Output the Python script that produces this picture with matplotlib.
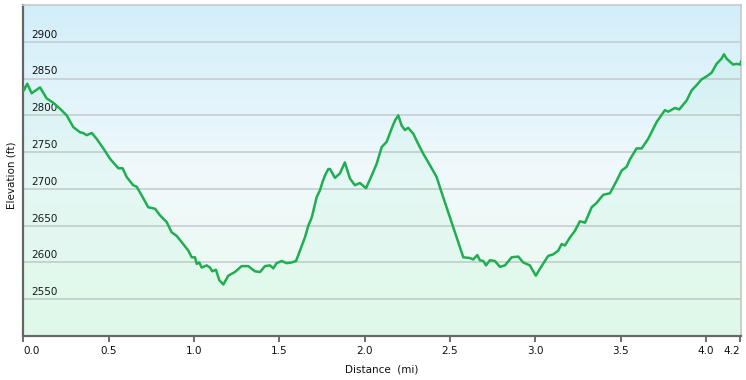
import numpy as np
import matplotlib
matplotlib.use('Agg')
import matplotlib.pyplot as plt
from matplotlib.colors import LinearSegmentedColormap

# elevation profile
distance_mi = [
    0.0, 0.004, 0.023, 0.049, 0.098, 0.137, 0.176, 0.215, 0.254, 0.293,
    0.332, 0.351, 0.371, 0.401, 0.430, 0.469, 0.508, 0.557, 0.582, 0.606,
    0.644, 0.664, 0.694, 0.732, 0.772, 0.801, 0.840, 0.869, 0.899, 0.937,
    0.967, 0.987, 1.006, 1.016, 1.031, 1.045, 1.074, 1.094, 1.107, 1.129,
    1.148, 1.172, 1.201, 1.240, 1.279, 1.318, 1.357, 1.387, 1.416, 1.445,
    1.465, 1.484, 1.514, 1.543, 1.572, 1.598, 1.621, 1.650, 1.670, 1.690,
    1.719, 1.738, 1.754, 1.767, 1.787, 1.797, 1.826, 1.855, 1.884, 1.914,
    1.943, 1.972, 2.008, 2.041, 2.070, 2.100, 2.129, 2.158, 2.178, 2.197,
    2.217, 2.236, 2.255, 2.285, 2.314, 2.343, 2.383, 2.422, 2.451, 2.490,
    2.529, 2.558, 2.578, 2.617, 2.636, 2.660, 2.675, 2.695, 2.711, 2.734,
    2.763, 2.793, 2.822, 2.861, 2.900, 2.929, 2.968, 3.003, 3.026, 3.056,
    3.076, 3.105, 3.134, 3.154, 3.173, 3.203, 3.232, 3.261, 3.291, 3.330,
    3.359, 3.398, 3.437, 3.476, 3.506, 3.535, 3.554, 3.593, 3.623, 3.661,
    3.711, 3.759, 3.779, 3.818, 3.843, 3.886, 3.916, 3.945, 3.974, 4.004,
    4.033, 4.062, 4.091, 4.105, 4.121, 4.159, 4.179, 4.199, 4.205,
]
elevation_ft = [
    2838, 2834, 2843, 2830, 2838, 2823, 2817, 2809, 2800, 2784,
    2777, 2776, 2773, 2776, 2768, 2755, 2741, 2728, 2728, 2716,
    2705, 2703, 2691, 2675, 2673, 2664, 2655, 2641, 2636, 2625,
    2616, 2607, 2607, 2598, 2600, 2593, 2596, 2593, 2588, 2590,
    2576, 2570, 2582, 2587, 2595, 2595, 2588, 2587, 2595, 2596,
    2592, 2599, 2602, 2599, 2600, 2602, 2616, 2634, 2650, 2661,
    2689, 2698, 2710, 2718, 2727, 2727, 2715, 2721, 2736, 2714,
    2705, 2708, 2701, 2718, 2734, 2757, 2764, 2782, 2793, 2800,
    2786, 2780, 2783, 2775, 2761, 2748, 2732, 2716, 2695, 2668,
    2641, 2621, 2607, 2606, 2604, 2610, 2603, 2602, 2596, 2603,
    2602, 2594, 2596, 2607, 2608, 2600, 2596, 2582, 2591, 2602,
    2609, 2611, 2616, 2625, 2623, 2634, 2643, 2656, 2654, 2675,
    2681, 2692, 2694, 2711, 2725, 2730, 2740, 2755, 2755, 2768,
    2791, 2807, 2805, 2810, 2808, 2820, 2834, 2841, 2849, 2853,
    2858, 2870, 2877, 2883, 2877, 2869, 2870, 2869, 2873,
]

x_ticks = [0.0, 0.5, 1.0, 1.5, 2.0, 2.5, 3.0, 3.5, 4.0, 4.2]
x_tick_labels = ['0.0', '0.5', '1.0', '1.5', '2.0', '2.5', '3.0', '3.5', '4.0', '4.2']
y_grid = [2550, 2600, 2650, 2700, 2750, 2800, 2850, 2900]
y_min, y_max = 2500, 2950
x_max = 4.205

fig = plt.figure(figsize=(7.46, 3.80), dpi=100)
ax = fig.add_axes([23.3 / 746, 1 - 336 / 380, (741 - 23.3) / 746, (336 - 5) / 380])

# background gradient: blue at top, near white, green at bottom
bg = LinearSegmentedColormap.from_list('bg', ['#ebfbee', '#f0f9fc', '#d2eefa'])
grad = np.linspace(0, 1, 256).reshape(-1, 1)
ax.imshow(grad, cmap=bg, origin='lower', aspect='auto',
          extent=[0, 1, 0, 1], transform=ax.transAxes, zorder=0)

for v in y_grid:
    ax.axhline(v, color='#c6cdd0', lw=1.2, zorder=1)
    ax.annotate(str(v), xy=(0.0117, v), xycoords=ax.get_yaxis_transform(),
                xytext=(0, 3), textcoords='offset points',
                ha='left', va='baseline', fontsize=7.5, color='#111111', zorder=2)

ax.fill_between(distance_mi, elevation_ft, y_min, color='#40d890', alpha=0.06,
                lw=0, zorder=3)
ax.plot(distance_mi, elevation_ft, color='#1fae50', lw=1.8, zorder=4,
        solid_joinstyle='round')

ax.set_xlim(0, x_max)
ax.set_ylim(y_min, y_max)
ax.set_yticks([])
ax.set_xticks(x_ticks)
ax.set_xticklabels(x_tick_labels, fontsize=7.5, color='#111111')
labels = ax.get_xticklabels()
labels[0].set_ha('left')
labels[-1].set_ha('right')
ax.tick_params(axis='x', length=4, width=1.2, color='#555555', pad=3)

for side in ['left', 'bottom']:
    ax.spines[side].set_color('#666666')
    ax.spines[side].set_linewidth(1.6)
for side in ['top', 'right']:
    ax.spines[side].set_color('#c8c8c8')
    ax.spines[side].set_linewidth(1.2)

fig.text(382 / 746, 1 - 369 / 380, 'Distance  (mi)', ha='center', va='center',
         fontsize=7.5, color='#111111')
fig.text(12 / 746, 1 - 175 / 380, 'Elevation (ft)', ha='center', va='center',
         rotation=90, fontsize=7.5, color='#111111')

fig.savefig('out.png', dpi=100)
